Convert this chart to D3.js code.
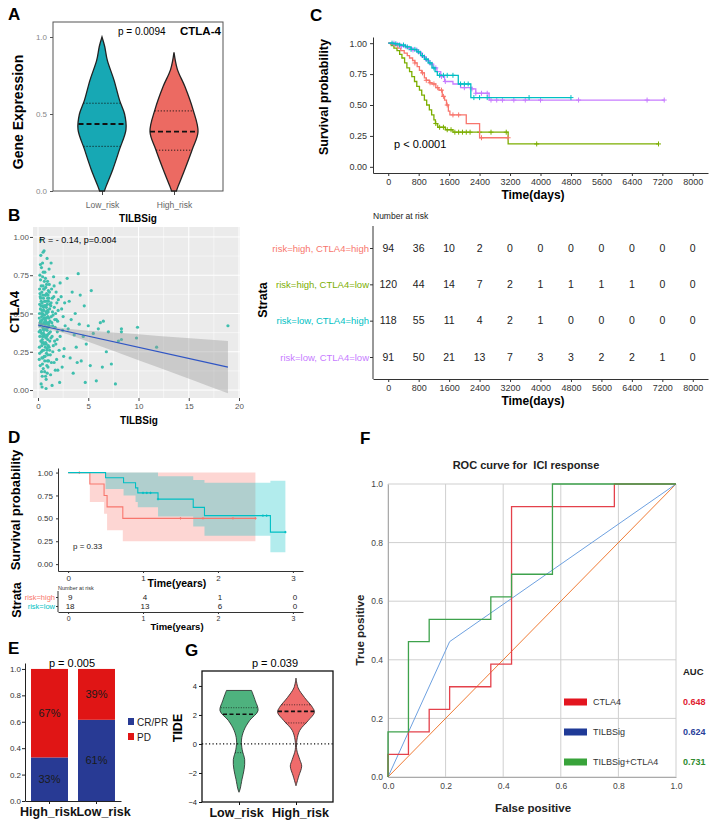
<!DOCTYPE html>
<html>
<head>
<meta charset="utf-8">
<script src="https://cdn.jsdelivr.net/npm/d3@7"></script>
<style>
  body { margin: 0; background: #fff; }
  text { font-family: "Liberation Sans", Arial, sans-serif; }
</style>
</head>
<body>
<svg id="fig" width="709" height="820"></svg>
<script>
// ---------------- data ----------------

// A: violin profiles [value, relative half width]
const aGroups = ["Low_risk", "High_risk"];
const aLowProfile = [[0, 0.1], [0.03, 0.17], [0.14, 0.45], [0.27, 0.73], [0.4, 1], [0.5, 0.94], [0.59, 0.73], [0.72, 0.5], [0.85, 0.22], [0.94, 0.11], [1.0, 0]];
const aHighProfile = [[0, 0.1], [0.03, 0.17], [0.14, 0.45], [0.27, 0.76], [0.385, 1], [0.53, 0.79], [0.68, 0.45], [0.79, 0.14], [0.9, 0]];
const aLowQuart = [0.29, 0.435, 0.57];
const aHighQuart = [0.265, 0.385, 0.52];

// B: TILBSig vs CTLA4 scatter
const bPoints = [
  [0.2,0.42],[0.3,0.55],[0.4,0.31],[0.5,0.68],[0.6,0.47],[0.7,0.22],[0.8,0.51],[0.9,0.39],[1.0,0.62],[1.1,0.28],
  [1.2,0.45],[1.3,0.57],[1.4,0.35],[1.5,0.49],[1.6,0.18],[1.7,0.41],[1.8,0.64],[1.9,0.33],[2.0,0.52],[2.1,0.26],
  [0.25,0.72],[0.35,0.12],[0.45,0.83],[0.55,0.37],[0.65,0.58],[0.75,0.09],[0.85,0.44],[0.95,0.71],[1.05,0.19],[1.15,0.53],
  [0.15,0.50],[0.22,0.61],[0.33,0.25],[0.42,0.46],[0.52,0.14],[0.62,0.66],[0.72,0.40],[0.82,0.30],[0.92,0.56],[1.02,0.43],
  [1.12,0.69],[1.22,0.23],[1.32,0.48],[1.42,0.60],[1.52,0.29],[1.62,0.54],[1.72,0.13],[1.82,0.46],[1.92,0.38],[2.02,0.59],
  [0.18,0.35],[0.28,0.88],[0.38,0.64],[0.48,0.21],[0.58,0.52],[0.68,0.77],[0.78,0.34],[0.88,0.16],[0.98,0.48],[1.08,0.37],
  [0.12,0.20],[0.21,0.44],[0.31,0.04],[0.41,0.57],[0.51,0.40],[0.61,0.30],[0.71,0.62],[0.81,0.07],[0.91,0.27],[1.01,0.51],
  [0.16,0.66],[0.26,0.38],[0.36,0.48],[0.46,0.74],[0.56,0.26],[0.66,0.43],[0.76,0.55],[0.86,0.63],[0.96,0.33],[1.06,0.44],
  [0.14,0.28],[0.24,0.53],[0.34,0.80],[0.44,0.17],[0.54,0.60],[0.64,0.36],[0.74,0.47],[0.84,0.24],[0.94,0.41],[1.04,0.58],
  [1.25,0.10],[1.35,0.66],[1.45,0.42],[1.55,0.74],[1.65,0.32],[1.75,0.50],[1.85,0.20],[1.95,0.45],[2.2,0.35],[2.3,0.61],
  [2.4,0.15],[2.5,0.48],[2.6,0.27],[2.7,0.42],[2.2,0.70],[2.35,0.53],[2.45,0.39],[2.15,0.05],[1.3,0.83],[0.6,0.91],
  [0.9,0.86],[0.3,0.98],[1.6,0.68],[0.4,0.02],[0.8,0.01],[1.1,0.79],[0.5,0.90],[2.55,0.22],[2.65,0.57],[1.4,0.03],
  [0.13,0.47],[0.23,0.39],[0.32,0.58],[0.43,0.33],[0.53,0.49],[0.63,0.71],[0.73,0.28],[0.83,0.54],[0.93,0.36],[1.03,0.65],
  [0.17,0.56],[0.27,0.45],[0.37,0.29],[0.47,0.62],[0.57,0.44],[0.67,0.19],[0.77,0.67],[0.87,0.50],[0.97,0.23],[1.07,0.60],
  [0.19,0.75],[0.29,0.32],[0.39,0.52],[0.49,0.41],[0.59,0.35],[0.69,0.55],[0.79,0.43],[0.89,0.58],[0.99,0.15],[1.09,0.47],
  [0.11,0.38],[0.20,0.63],[0.35,0.43],[0.45,0.26],[0.55,0.54],[0.65,0.49],[0.75,0.31],[0.85,0.69],[0.95,0.52],[1.17,0.32],
  [1.27,0.55],[1.37,0.44],[1.47,0.25],[1.57,0.61],[1.67,0.46],[1.77,0.30],[1.87,0.57],[1.97,0.13],[1.23,0.38],[1.33,0.18],
  [0.22,0.16],[0.32,0.68],[0.42,0.09],[0.52,0.77],[0.62,0.22],[0.72,0.58],[0.82,0.40],[0.92,0.11],[1.02,0.29],[1.12,0.42],
  [0.16,0.24],[0.26,0.60],[0.36,0.37],[0.46,0.50],[0.56,0.66],[0.66,0.12],[0.76,0.45],[0.86,0.35],[0.96,0.60],[1.16,0.26],
  [0.28,0.45],[0.38,0.21],[0.48,0.55],[0.58,0.39],[0.68,0.46],[0.78,0.62],[0.88,0.26],[0.98,0.41],[1.18,0.56],[1.28,0.34],
  [0.24,0.82],[0.34,0.50],[0.44,0.35],[0.54,0.31],[0.64,0.55],[0.74,0.73],[0.84,0.47],[0.94,0.19],[1.14,0.64],[1.44,0.51],
  [2.9,0.73],[3.0,0.40],[3.1,0.58],[3.2,0.21],[3.3,0.46],[3.4,0.64],[3.5,0.11],[3.6,0.36],[3.7,0.50],[3.8,0.28],
  [4.0,0.76],[4.1,0.43],[4.2,0.62],[4.3,0.19],[4.5,0.35],[4.6,0.55],[4.8,0.30],[5.0,0.42],[5.2,0.16],[5.3,0.65],
  [5.5,0.37],[5.8,0.06],[6.0,0.40],[6.2,0.44],[6.5,0.45],[6.8,0.25],[7.0,0.38],[7.3,0.17],[7.7,0.04],[8.0,0.32],
  [8.3,0.38],[8.3,0.40],[8.3,0.33],[9.8,0.34],[9.9,0.41],[11.8,0.28],[18.9,0.42],[4.7,0.05],[3.9,0.18],[6.4,0.15]
];
const bFit = [[0, 0.425], [18.9, 0.15]];
const bBand = [[0, 0.406, 0.444], [1.5, 0.391, 0.415], [3, 0.362, 0.40], [5, 0.316, 0.388], [8, 0.244, 0.374], [12, 0.147, 0.353], [15.5, 0.063, 0.337], [18.9, -0.021, 0.321]];

// C: Kaplan-Meier, 4 strata; steps are [time, survival from that time]
const cStrata = ["risk=high, CTLA4=high", "risk=high, CTLA4=low", "risk=low, CTLA4=high", "risk=low, CTLA4=low"];
const cTimes = [0, 800, 1600, 2400, 3200, 4000, 4800, 5600, 6400, 7200, 8000];
const cHighHigh = [[0,1],[60,0.99],[150,0.98],[250,0.96],[330,0.94],[420,0.92],[500,0.90],[560,0.88],[640,0.86],[700,0.84],[760,0.81],[820,0.78],[880,0.76],[950,0.72],[1000,0.70],[1080,0.68],[1150,0.67],[1250,0.64],[1330,0.62],[1420,0.57],[1480,0.54],[1530,0.50],[1580,0.45],[1620,0.42],[2050,0.35],[2400,0.235]];
const cHighLow = [[0,1],[80,0.98],[150,0.96],[230,0.94],[300,0.91],[360,0.88],[430,0.84],[490,0.80],[560,0.77],[620,0.73],[690,0.69],[750,0.65],[820,0.62],[880,0.58],[950,0.54],[1010,0.50],[1080,0.46],[1140,0.42],[1200,0.38],[1240,0.35],[1300,0.32],[1500,0.30],[1700,0.28],[3150,0.185]];
const cLowHigh = [[0,1],[150,0.995],[300,0.985],[450,0.97],[600,0.95],[750,0.93],[850,0.90],[950,0.87],[1050,0.84],[1150,0.80],[1230,0.77],[1290,0.74],[1840,0.67],[2170,0.56]];
const cLowLow = [[0,1],[200,0.99],[350,0.975],[500,0.96],[650,0.945],[780,0.92],[880,0.89],[980,0.86],[1080,0.83],[1180,0.80],[1280,0.77],[1380,0.73],[1480,0.69],[1700,0.67],[1900,0.64],[2200,0.63],[2300,0.595],[2650,0.54]];
const cEnds = [3150, 7100, 4800, 7250];
const cCensHighHigh = [700, 900, 1000, 1100, 1200, 1300, 1400, 1450, 1550, 1700, 1850, 2450, 3150];
const cCensHighLow = [1250, 1350, 1450, 1550, 1650, 1750, 1850, 1950, 2050, 2150, 2400, 2700, 3100, 3900, 7100];
const cCensLowHigh = [100, 200, 300, 400, 500, 600, 700, 800, 900, 1000, 1100, 1200, 1350, 1450, 1550, 1700, 1900, 2000, 2100, 2250, 2400, 2600, 3700, 4800];
const cCensLowLow = [150, 250, 350, 450, 550, 650, 750, 850, 950, 1050, 1150, 1250, 1400, 1500, 2000, 2200, 2300, 2450, 2600, 2700, 2850, 3000, 3300, 3600, 4000, 5000, 6800, 7250];
const cAtRisk = [
  [94, 36, 10, 2, 0, 0, 0, 0, 0, 0, 0],
  [120, 44, 14, 7, 2, 1, 1, 1, 1, 0, 0],
  [118, 55, 11, 4, 2, 1, 0, 0, 0, 0, 0],
  [91, 50, 21, 13, 7, 3, 3, 2, 2, 1, 0]
];

// D: Kaplan-Meier in immunotherapy cohort (years)
const dStrata = ["risk=high", "risk=low"];
const dYears = [0, 1, 2, 3];
const dHighSteps = [[0,1],[0.29,0.875],[0.48,0.75],[0.52,0.625],[0.73,0.5]];
const dHighBand = [[0,1,1],[0.29,0.68,1],[0.48,0.55,1],[0.52,0.37,1],[0.73,0.25,1]];
const dLowSteps = [[0,1],[0.5,0.944],[0.74,0.889],[0.9,0.833],[0.93,0.778],[1.2,0.71],[1.67,0.62],[1.82,0.53],[2.7,0.35]];
const dLowBand = [[0,1,1],[0.5,0.82,1],[0.74,0.75,1],[0.9,0.68,1],[0.93,0.62,1],[1.2,0.52,0.96],[1.67,0.41,0.92],[1.82,0.31,0.89],[2.7,0.13,0.91]];
const dEnds = [2.5, 2.9];
const dCensHigh = [0.15, 1.5, 1.8, 2.2, 2.5];
const dCensLow = [1.0, 1.05, 1.1, 1.2, 2.6, 2.65, 2.9];
const dAtRisk = [[9, 4, 1, 0], [18, 13, 6, 0]];

// E: response proportions
const eGroups = ["High_risk", "Low_risk"];
const eResp = ["CR/PR", "PD"];
const eCR = [0.33, 0.615];
const ePD = [0.67, 0.385];
const eCRLabel = ["33%", "61%"];
const ePDLabel = ["67%", "39%"];

// F: ROC curves
const fNames = ["CTLA4", "TILBSig", "TILBSig+CTLA4"];
const fAuc = ["0.648", "0.624", "0.731"];
const fCTLA4 = [[0,0],[0,0.077],[0.071,0.077],[0.071,0.154],[0.143,0.154],[0.143,0.231],[0.214,0.231],[0.214,0.308],[0.357,0.308],[0.357,0.385],[0.429,0.385],[0.429,0.923],[0.786,0.923],[0.786,1],[1,1]];
const fTILBSig = [[0,0],[0.214,0.462],[1,1]];
const fCombo = [[0,0],[0,0.154],[0.071,0.154],[0.071,0.462],[0.143,0.462],[0.143,0.538],[0.357,0.538],[0.357,0.615],[0.429,0.615],[0.429,0.692],[0.571,0.692],[0.571,1],[1,1]];
const fDiag = [[0,0],[1,1]];
const fTicks = [0, 0.2, 0.4, 0.6, 0.8, 1.0];

// G: TIDE violins
const gGroups = ["Low_risk", "High_risk"];
const gLowProfile = [[-3.33,0],[-3.1,0.06],[-2.43,0.16],[-1.75,0.27],[-1.08,0.3],[-0.4,0.17],[0.27,0.13],[0.94,0.26],[1.62,0.56],[2.29,1],[2.97,0.86],[3.69,0.66]];
const gHighProfile = [[-2.88,0],[-2.2,0.15],[-1.53,0.3],[-1.08,0.2],[-0.4,0.04],[0.27,0.05],[0.94,0.2],[1.62,0.65],[2.18,0.97],[2.52,0.87],[3.2,0.45],[3.87,0.11],[4.54,0]];
const gLowQuart = [-0.6, 2.05, 2.5];
const gHighQuart = [1.45, 2.25, 2.7];

// ---------------- drawing ----------------
const svg = d3.select("#fig");
const FONT = '"Liberation Sans", Arial, sans-serif';
const kmCol = ["#f8766d", "#7cae00", "#00bfc4", "#c77cff"];

function txt(g, x, y, s, size, o) {
  o = o || {};
  const t = g.append("text").attr("x", x).attr("y", y).text(s)
    .attr("font-size", size)
    .attr("text-anchor", o.anchor || "start")
    .attr("fill", o.fill || "#000");
  if (o.bold) t.attr("font-weight", "bold");
  if (o.mid) t.attr("dy", "0.35em");
  if (o.rot) t.attr("transform", `rotate(${o.rot},${x},${y})`);
  return t;
}

function styleAxis(g, size, col, lineCol, keepDomain) {
  g.attr("font-family", FONT).attr("font-size", size);
  g.selectAll("text").attr("fill", col);
  g.selectAll("line").attr("stroke", lineCol);
  if (keepDomain) g.select(".domain").attr("stroke", lineCol);
  else g.select(".domain").remove();
}

// linear lookup of violin width at a value
function widthAt(profile, v) {
  for (let i = 1; i < profile.length; i++) {
    const a = profile[i - 1], b = profile[i];
    if (v >= a[0] && v <= b[0]) return a[1] + (b[1] - a[1]) * (v - a[0]) / (b[0] - a[0]);
  }
  return 0;
}

function violin(g, cx, ys, profile, half, fill, strokeW) {
  const area = d3.area().curve(d3.curveCatmullRom)
    .y(d => ys(d[0]))
    .x0(d => cx - d[1] * half)
    .x1(d => cx + d[1] * half);
  g.append("path").attr("d", area(profile)).attr("fill", fill)
    .attr("stroke", "#222").attr("stroke-width", strokeW);
}

function quartLine(g, cx, ys, profile, half, v, dash, w) {
  const hw = widthAt(profile, v) * half;
  g.append("line").attr("x1", cx - hw).attr("x2", cx + hw)
    .attr("y1", ys(v)).attr("y2", ys(v))
    .attr("stroke", "#111").attr("stroke-width", w).attr("stroke-dasharray", dash);
}

// step value of a KM curve at time t
function survAt(steps, t) {
  let s = steps[0][1];
  steps.forEach(d => { if (d[0] <= t) s = d[1]; });
  return s;
}

function censor(g, x, y, col, r) {
  g.append("path").attr("d", `M${x - r},${y}H${x + r}M${x},${y - r}V${y + r}`)
    .attr("stroke", col).attr("stroke-width", 1);
}

// ===== Panel A =====
const gA = svg.append("g");
txt(gA, 8, 20, "A", 17, {bold: 1});
const aX = d3.scalePoint().domain(aGroups).range([102, 174]);
const aY = d3.scaleLinear().domain([0, 1]).range([191, 37]);
gA.append("rect").attr("x", 53).attr("y", 22).attr("width", 170).attr("height", 169)
  .attr("fill", "none").attr("stroke", "#555").attr("stroke-width", 1);
gA.append("g").attr("transform", "translate(53,0)")
  .call(d3.axisLeft(aY).tickValues([0, 0.5, 1]).tickFormat(d3.format(".1f")).tickSize(3).tickPadding(3))
  .call(g => styleAxis(g, 8, "#888", "#555"));
gA.append("g").attr("transform", "translate(0,191)")
  .call(d3.axisBottom(aX).tickSize(4).tickPadding(7))
  .call(g => styleAxis(g, 8.5, "#666", "#444"));
violin(gA, aX("Low_risk"), aY, aLowProfile, 24, "#17a8b4", 1.3);
violin(gA, aX("High_risk"), aY, aHighProfile, 24, "#ec6a62", 1.3);
[[aLowProfile, aLowQuart, "Low_risk"], [aHighProfile, aHighQuart, "High_risk"]].forEach(([p, q, k]) => {
  quartLine(gA, aX(k), aY, p, 24, q[0], "1.2,1.8", 0.9);
  quartLine(gA, aX(k), aY, p, 24, q[2], "1.2,1.8", 0.9);
  quartLine(gA, aX(k), aY, p, 24, q[1], "5,3", 1.8);
});
txt(gA, 118, 35, "p = 0.0094", 10);
txt(gA, 180, 35, "CTLA-4", 11.5, {bold: 1});
txt(gA, 18, 112, "Gene Expression", 14, {bold: 1, anchor: "middle", rot: -90, mid: 1});
txt(gA, 138, 222, "TILBSig", 10, {bold: 1, anchor: "middle"});

// ===== Panel B =====
const gB = svg.append("g");
txt(gB, 8, 221, "B", 17, {bold: 1});
const bx = d3.scaleLinear().domain([-0.5, 20.1]).range([33, 240]);
const by = d3.scaleLinear().domain([-0.052, 1.065]).range([398, 227]);
gB.append("rect").attr("x", 33).attr("y", 227).attr("width", 207).attr("height", 171).attr("fill", "#ebebeb");
[0.125, 0.375, 0.625, 0.875].forEach(v => gB.append("line").attr("x1", 33).attr("x2", 240)
  .attr("y1", by(v)).attr("y2", by(v)).attr("stroke", "#fff").attr("stroke-width", 0.5));
[2.5, 7.5, 12.5, 17.5].forEach(v => gB.append("line").attr("y1", 227).attr("y2", 398)
  .attr("x1", bx(v)).attr("x2", bx(v)).attr("stroke", "#fff").attr("stroke-width", 0.5));
[0, 0.25, 0.5, 0.75, 1].forEach(v => gB.append("line").attr("x1", 33).attr("x2", 240)
  .attr("y1", by(v)).attr("y2", by(v)).attr("stroke", "#fff").attr("stroke-width", 1));
[0, 5, 10, 15, 20].forEach(v => gB.append("line").attr("y1", 227).attr("y2", 398)
  .attr("x1", bx(v)).attr("x2", bx(v)).attr("stroke", "#fff").attr("stroke-width", 1));
gB.selectAll("circle").data(bPoints).join("circle")
  .attr("cx", d => bx(d[0])).attr("cy", d => by(d[1])).attr("r", 1.6).attr("fill", "#3fbfae");
gB.append("path").attr("d", d3.area().x(d => bx(d[0])).y0(d => by(d[1])).y1(d => by(d[2])).curve(d3.curveMonotoneX)(bBand))
  .attr("fill", "#999").attr("fill-opacity", 0.4);
gB.append("path").attr("d", d3.line().x(d => bx(d[0])).y(d => by(d[1]))(bFit))
  .attr("fill", "none").attr("stroke", "#2f55c4").attr("stroke-width", 1.2);
gB.append("g").attr("transform", "translate(33,0)")
  .call(d3.axisLeft(by).tickValues([0, 0.25, 0.5, 0.75, 1]).tickFormat(d3.format(".2f")).tickSize(3).tickPadding(1))
  .call(g => styleAxis(g, 8, "#555", "#444"));
gB.append("g").attr("transform", "translate(0,398)")
  .call(d3.axisBottom(bx).tickValues([0, 5, 10, 15, 20]).tickSize(3).tickPadding(2))
  .call(g => styleAxis(g, 8, "#555", "#444"));
txt(gB, 39, 243, "R = - 0.14,  p=0.004", 9);
txt(gB, 14, 312, "CTLA4", 13, {bold: 1, anchor: "middle", rot: -90, mid: 1});
txt(gB, 139, 424, "TILBSig", 10, {bold: 1, anchor: "middle"});

// ===== Panel C =====
const gC = svg.append("g");
txt(gC, 310, 21, "C", 17, {bold: 1});
const cx = d3.scaleLinear().domain([-400, 8400]).range([373, 708]);
const cy = d3.scaleLinear().domain([-0.05, 1.05]).range([173, 37]);
gC.append("g").attr("transform", "translate(373,0)")
  .call(d3.axisLeft(cy).tickValues([0, 0.25, 0.5, 0.75, 1]).tickFormat(d3.format(".2f")).tickSize(3).tickSizeOuter(0).tickPadding(3))
  .call(g => styleAxis(g, 9, "#333", "#333", true));
gC.append("g").attr("transform", "translate(0,173)")
  .call(d3.axisBottom(cx).tickValues(cTimes).tickFormat(d3.format("d")).tickSize(3).tickSizeOuter(0).tickPadding(3))
  .call(g => styleAxis(g, 9, "#333", "#333", true));
const cSteps = [cHighHigh, cHighLow, cLowHigh, cLowLow];
const cCens = [cCensHighHigh, cCensHighLow, cCensLowHigh, cCensLowLow];
const kmLine = d3.line().curve(d3.curveStepAfter).x(d => cx(d[0])).y(d => cy(d[1]));
// draw in back-to-front order: green, red, purple, teal
[1, 0, 3, 2].forEach(i => {
  const pts = cSteps[i].concat([[cEnds[i], cSteps[i][cSteps[i].length - 1][1]]]);
  gC.append("path").attr("d", kmLine(pts)).attr("fill", "none")
    .attr("stroke", kmCol[i]).attr("stroke-width", 1.3);
  cCens[i].forEach(t => censor(gC, cx(t), cy(survAt(cSteps[i], t)), kmCol[i], 2.5));
});
txt(gC, 394, 148, "p < 0.0001", 11);
txt(gC, 324, 97, "Survival probability", 12.5, {bold: 1, anchor: "middle", rot: -90, mid: 1});
txt(gC, 533, 199, "Time(days)", 12, {bold: 1, anchor: "middle"});

// risk table
const crY = d3.scalePoint().domain(cStrata).range([248, 357]);
txt(gC, 373, 219, "Number at risk", 8.5, {fill: "#222"});
gC.append("g").attr("transform", "translate(373,0)")
  .call(d3.axisLeft(crY).tickSize(3).tickSizeOuter(0).tickPadding(1))
  .call(g => {
    styleAxis(g, 9.5, "#333", "#333", true);
    g.select(".domain").attr("d", "M0,226V379");
    g.selectAll(".tick text").attr("fill", (d, i) => kmCol[i]);
  });
gC.append("g").attr("transform", "translate(0,379)")
  .call(d3.axisBottom(cx).tickValues(cTimes).tickFormat(d3.format("d")).tickSize(3).tickSizeOuter(0).tickPadding(3))
  .call(g => styleAxis(g, 9, "#333", "#333", true));
cAtRisk.forEach((row, i) => row.forEach((n, j) => {
  txt(gC, cx(cTimes[j]), crY(cStrata[i]), n, 10.5, {anchor: "middle", mid: 1, fill: "#222"});
}));
txt(gC, 263, 300, "Strata", 12.5, {bold: 1, anchor: "middle", rot: -90, mid: 1});
txt(gC, 533, 405, "Time(days)", 12, {bold: 1, anchor: "middle"});

// ===== Panel D =====
const gD = svg.append("g");
txt(gD, 8, 443, "D", 17, {bold: 1});
const dx = d3.scaleLinear().domain([-0.135, 3.135]).range([58, 303]);
const dy = d3.scaleLinear().domain([-0.075, 1.05]).range([571, 468]);
const dCol = [kmCol[0], kmCol[2]];
const dBandArea = d3.area().curve(d3.curveStepAfter).x(d => dx(d[0])).y0(d => dy(d[1])).y1(d => dy(d[2]));
[[dHighBand, 0], [dLowBand, 1]].forEach(([b, i]) => {
  const last = b[b.length - 1];
  gD.append("path").attr("d", dBandArea(b.concat([[dEnds[i], last[1], last[2]]])))
    .attr("fill", dCol[i]).attr("fill-opacity", 0.3);
});
const dLine = d3.line().curve(d3.curveStepAfter).x(d => dx(d[0])).y(d => dy(d[1]));
[[dHighSteps, dCensHigh, 0], [dLowSteps, dCensLow, 1]].forEach(([s, cens, i]) => {
  gD.append("path").attr("d", dLine(s.concat([[dEnds[i], s[s.length - 1][1]]])))
    .attr("fill", "none").attr("stroke", dCol[i]).attr("stroke-width", 1.1);
  cens.forEach(t => censor(gD, dx(t), dy(survAt(s, t)), dCol[i], 1.2));
});
gD.append("g").attr("transform", "translate(58,0)")
  .call(d3.axisLeft(dy).tickValues([0, 0.25, 0.5, 0.75, 1]).tickFormat(d3.format(".2f")).tickSize(2).tickSizeOuter(0).tickPadding(3))
  .call(g => styleAxis(g, 8, "#333", "#333", true));
gD.append("g").attr("transform", "translate(0,571)")
  .call(d3.axisBottom(dx).tickValues(dYears).tickFormat(d3.format("d")).tickSize(2).tickSizeOuter(0).tickPadding(2))
  .call(g => styleAxis(g, 8, "#333", "#333", true));
txt(gD, 73, 549, "p = 0.33", 8, {fill: "#222"});
txt(gD, 15, 510, "Survival probability", 13, {bold: 1, anchor: "middle", rot: -90, mid: 1});
txt(gD, 177, 587, "Time(years)", 10.5, {bold: 1, anchor: "middle"});
// risk table
const drY = d3.scalePoint().domain(dStrata).range([597, 606]);
txt(gD, 58, 590, "Number at risk", 5.5, {fill: "#333"});
gD.append("g").attr("transform", "translate(58,0)")
  .call(d3.axisLeft(drY).tickSize(2).tickSizeOuter(0).tickPadding(1))
  .call(g => {
    styleAxis(g, 7.5, "#333", "#333", true);
    g.select(".domain").attr("d", "M0,591V612");
    g.selectAll(".tick text").attr("fill", (d, i) => dCol[i]);
  });
gD.append("g").attr("transform", "translate(0,612)")
  .call(d3.axisBottom(dx).tickValues(dYears).tickFormat(d3.format("d")).tickSize(2).tickSizeOuter(0).tickPadding(2))
  .call(g => styleAxis(g, 7, "#333", "#333", true));
dAtRisk.forEach((row, i) => row.forEach((n, j) => {
  txt(gD, dx(dYears[j]) + 2, drY(dStrata[i]), n, 8, {anchor: "middle", mid: 1, fill: "#222"});
}));
txt(gD, 17, 600, "Strata", 12.5, {bold: 1, anchor: "middle", rot: -90, mid: 1});
txt(gD, 177, 630, "Time(years)", 9.5, {bold: 1, anchor: "middle"});

// ===== Panel E =====
const gE = svg.append("g");
txt(gE, 8, 654, "E", 17, {bold: 1});
const ex = d3.scaleBand().domain(eGroups).range([25, 121]).paddingInner(0.213).paddingOuter(0.128);
const ey = d3.scaleLinear().domain([0, 1.045]).range([801, 663]);
const eRows = eGroups.map((g, i) => ({g: g, cr: eCR[i], pd: ePD[i], crl: eCRLabel[i], pdl: ePDLabel[i]}));
const eStack = d3.stack().keys(["cr", "pd"])(eRows);
const eFill = ["#283a94", "#e01515"];
eStack.forEach((layer, k) => {
  gE.selectAll(null).data(layer).join("rect")
    .attr("x", d => ex(d.data.g)).attr("width", ex.bandwidth())
    .attr("y", d => ey(d[1])).attr("height", d => ey(d[0]) - ey(d[1]))
    .attr("fill", eFill[k]);
  gE.selectAll(null).data(layer).join("text")
    .attr("x", d => ex(d.data.g) + ex.bandwidth() / 2).attr("y", d => ey((d[0] + d[1]) / 2))
    .attr("dy", "0.35em").attr("text-anchor", "middle").attr("font-size", 11).attr("fill", "#1a1a1a")
    .text(d => k === 0 ? d.data.crl : d.data.pdl);
});
gE.append("g").attr("transform", "translate(25,0)")
  .call(d3.axisLeft(ey).tickValues([0, 0.2, 0.4, 0.6, 0.8, 1]).tickFormat(d3.format(".1f")).tickSize(3).tickSizeOuter(0).tickPadding(1))
  .call(g => styleAxis(g, 8, "#333", "#222", true));
gE.append("g").attr("transform", "translate(0,801)")
  .call(d3.axisBottom(ex).tickSize(3).tickSizeOuter(0).tickPadding(3))
  .call(g => {
    styleAxis(g, 12.5, "#111", "#222", true);
    g.selectAll(".tick text").attr("font-weight", "bold").attr("dx", (d, i) => i === 1 ? 7 : -1);
  });
txt(gE, 72, 667, "p = 0.005", 11, {anchor: "middle"});
eResp.forEach((r, i) => {
  gE.append("rect").attr("x", 128).attr("y", 718 + i * 15).attr("width", 6).attr("height", 7).attr("fill", eFill[i]);
  txt(gE, 137, 722 + i * 15, r, 10, {mid: 1, fill: "#222"});
});

// ===== Panel G =====
const gG = svg.append("g");
txt(gG, 185, 656, "G", 17, {bold: 1});
const gX = d3.scalePoint().domain(gGroups).range([239, 296]);
const gY = d3.scaleLinear().domain([-4, 5.03]).range([802, 671]);
violin(gG, gX("Low_risk"), gY, gLowProfile, 19, "#4eb27e", 0.8);
violin(gG, gX("High_risk"), gY, gHighProfile, 19, "#ef6b6b", 0.8);
[[gLowProfile, gLowQuart, "Low_risk"], [gHighProfile, gHighQuart, "High_risk"]].forEach(([p, q, k]) => {
  quartLine(gG, gX(k), gY, p, 19, q[0], "1,1.5", 0.7);
  quartLine(gG, gX(k), gY, p, 19, q[2], "1,1.5", 0.7);
  quartLine(gG, gX(k), gY, p, 19, q[1], "4,2.5", 1.6);
});
gG.append("line").attr("x1", 202).attr("x2", 333).attr("y1", gY(0)).attr("y2", gY(0))
  .attr("stroke", "#111").attr("stroke-width", 1.2).attr("stroke-dasharray", "1.2,2.3");
gG.append("rect").attr("x", 202).attr("y", 671).attr("width", 131).attr("height", 131)
  .attr("fill", "none").attr("stroke", "#111").attr("stroke-width", 1.3);
gG.append("g").attr("transform", "translate(202,0)")
  .call(d3.axisLeft(gY).tickValues([-4, -2, 0, 2, 4]).tickFormat(d => d < 0 ? "\u2212" + (-d) : d).tickSize(3).tickPadding(2))
  .call(g => styleAxis(g, 7.5, "#222", "#111"));
gG.append("g").attr("transform", "translate(0,802)")
  .call(d3.axisBottom(gX).tickSize(3).tickPadding(3))
  .call(g => {
    styleAxis(g, 12.5, "#111", "#111");
    g.selectAll(".tick text").attr("font-weight", "bold").attr("dx", (d, i) => i === 0 ? -3 : 4);
  });
txt(gG, 275, 667, "p = 0.039", 11, {anchor: "middle"});
txt(gG, 178, 728, "TIDE", 12.5, {bold: 1, anchor: "middle", rot: -90, mid: 1});

// ===== Panel F =====
const gF = svg.append("g");
txt(gF, 360, 444, "F", 17, {bold: 1});
const fx = d3.scaleLinear().domain([0, 1]).range([388, 676]);
const fy = d3.scaleLinear().domain([0, 1]).range([777, 484]);
fTicks.forEach(v => {
  gF.append("line").attr("x1", fx(v)).attr("x2", fx(v)).attr("y1", fy(0)).attr("y2", fy(1))
    .attr("stroke", "#cfcfcf").attr("stroke-width", 1);
  gF.append("line").attr("x1", fx(0)).attr("x2", fx(1)).attr("y1", fy(v)).attr("y2", fy(v))
    .attr("stroke", "#cfcfcf").attr("stroke-width", 1);
});
gF.append("g").attr("transform", "translate(388,0)")
  .call(d3.axisLeft(fy).tickValues(fTicks).tickFormat(d3.format(".1f")).tickSize(0).tickPadding(5))
  .call(g => styleAxis(g, 8.5, "#444", "#aaa", true));
gF.append("g").attr("transform", "translate(0,777)")
  .call(d3.axisBottom(fx).tickValues(fTicks).tickFormat(d3.format(".1f")).tickSize(0).tickPadding(6))
  .call(g => styleAxis(g, 8.5, "#444", "#aaa", true));
const fLine = d3.line().x(d => fx(d[0])).y(d => fy(d[1]));
gF.append("path").attr("d", fLine(fDiag)).attr("fill", "none").attr("stroke", "#ef7b35").attr("stroke-width", 1);
gF.append("path").attr("d", fLine(fTILBSig)).attr("fill", "none").attr("stroke", "#6ea1e0").attr("stroke-width", 1);
gF.append("path").attr("d", fLine(fCTLA4)).attr("fill", "none").attr("stroke", "#e4414b").attr("stroke-width", 1.3);
gF.append("path").attr("d", fLine(fCombo)).attr("fill", "none").attr("stroke", "#3ea24c").attr("stroke-width", 1.3);
txt(gF, 526, 469, "ROC curve for\u00a0 ICI response", 11, {bold: 1, anchor: "middle", fill: "#222"});
txt(gF, 360, 630, "True positive", 11.5, {bold: 1, anchor: "middle", rot: -90, mid: 1, fill: "#222"});
txt(gF, 533, 812, "False positive", 11.5, {bold: 1, anchor: "middle", fill: "#222"});
const fLegFill = ["#e3151f", "#1f3a97", "#38a33a"];
const fAucCol = ["#e0202f", "#2a3f9a", "#2e8b2e"];
txt(gF, 683, 672, "AUC", 9.5, {bold: 1, mid: 1, fill: "#222"});
fNames.forEach((n, i) => {
  const yy = 702 + i * 30;
  gF.append("rect").attr("x", 564).attr("y", yy - 3.5).attr("width", 23).attr("height", 7).attr("fill", fLegFill[i]);
  txt(gF, 593, yy, n, 9, {mid: 1, fill: "#333"});
  txt(gF, 683, yy, fAuc[i], 9, {bold: 1, mid: 1, fill: fAucCol[i]});
});
</script>
</body>
</html>
